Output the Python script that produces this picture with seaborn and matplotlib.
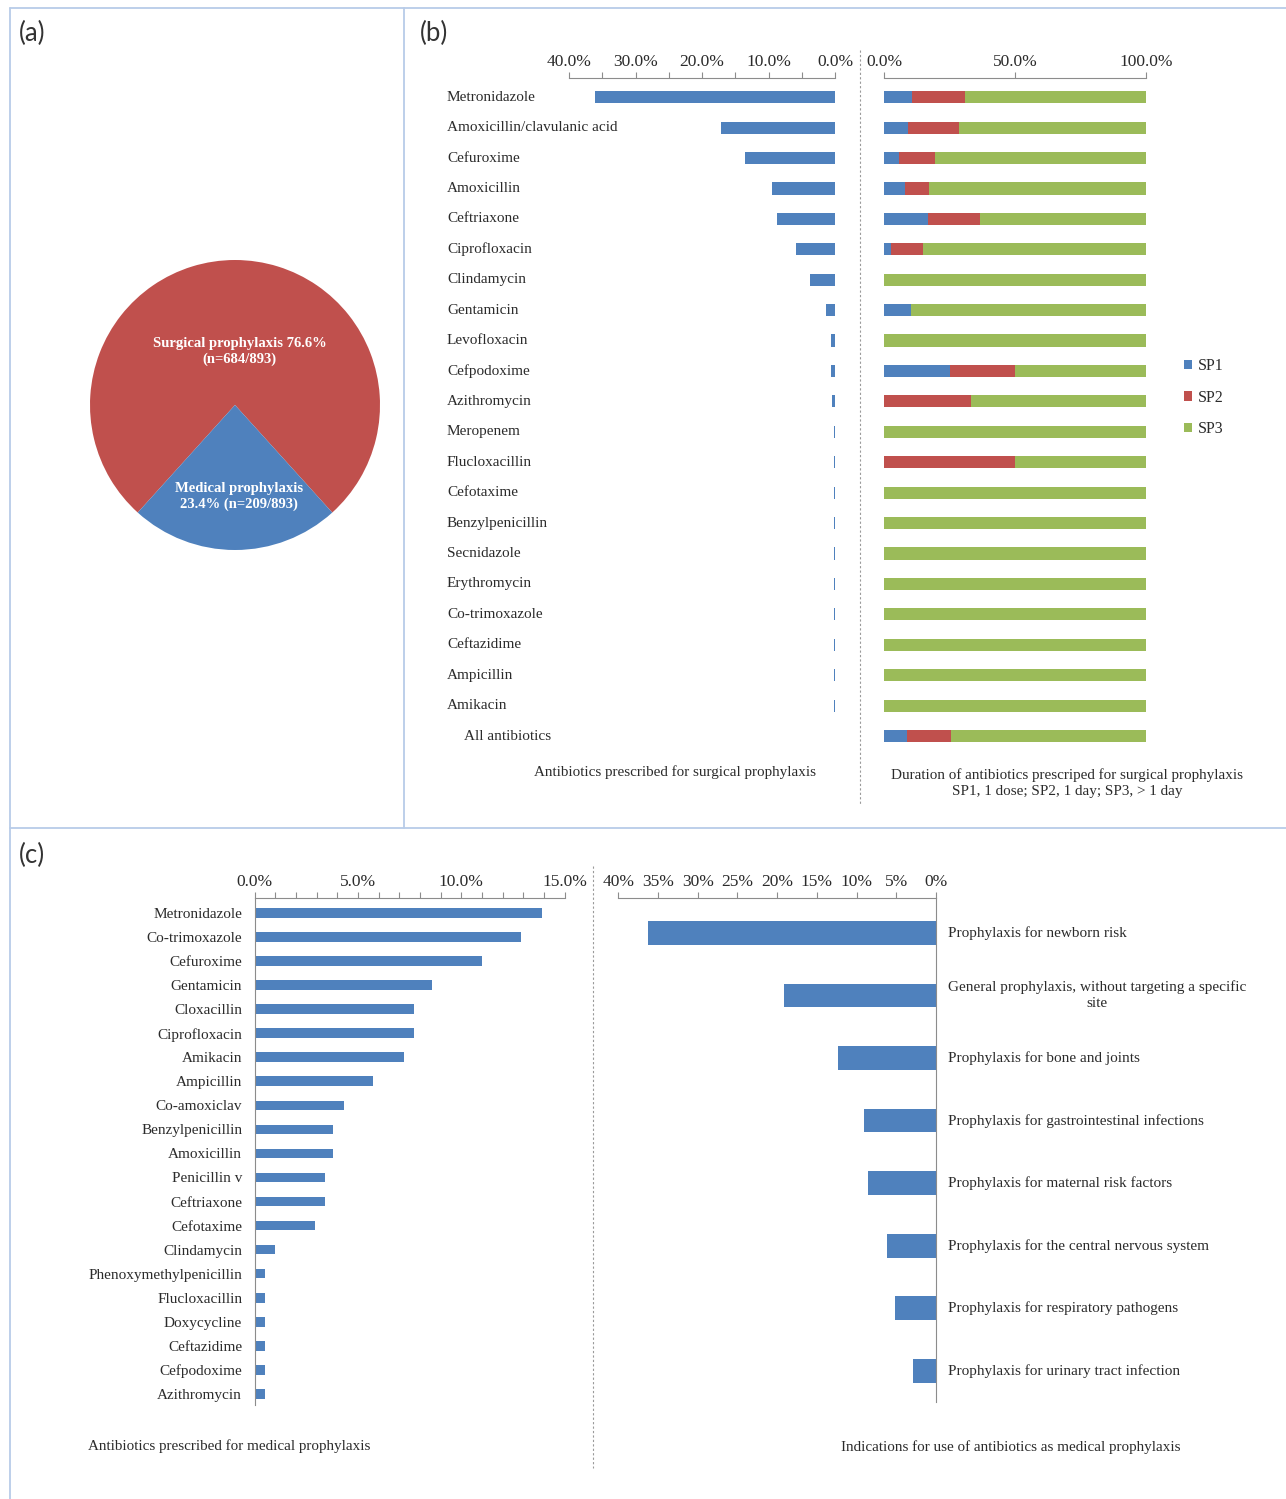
import numpy as np
import matplotlib
matplotlib.use("Agg")
import matplotlib.pyplot as plt
import seaborn as sns
from matplotlib.lines import Line2D
from matplotlib.patches import Patch
from matplotlib.ticker import MultipleLocator, FuncFormatter
from matplotlib.transforms import blended_transform_factory

# ---- data ----
# (a) share of prophylaxis prescriptions
pie_labels = ["Surgical prophylaxis 76.6%\n(n=684/893)", "Medical prophylaxis\n23.4% (n=209/893)"]
pie_values = [76.6, 23.4]

# (b) antibiotics for surgical prophylaxis
surg_drugs = ["Metronidazole", "Amoxicillin/clavulanic acid", "Cefuroxime", "Amoxicillin",
              "Ceftriaxone", "Ciprofloxacin", "Clindamycin", "Gentamicin", "Levofloxacin",
              "Cefpodoxime", "Azithromycin", "Meropenem", "Flucloxacillin", "Cefotaxime",
              "Benzylpenicillin", "Secnidazole", "Erythromycin", "Co-trimoxazole",
              "Ceftazidime", "Ampicillin", "Amikacin"]
surg_pct = [36.1, 17.1, 13.6, 9.5, 8.7, 5.8, 3.8, 1.4, 0.6, 0.6, 0.4,
            0.15, 0.15, 0.15, 0.15, 0.15, 0.15, 0.15, 0.15, 0.15, 0.15]

dur_cats = surg_drugs + ["All antibiotics"]
sp1 = [10.7, 9.0, 5.5, 7.9, 16.7, 2.5, 0, 10.2, 0, 25.0, 0,
       0, 0, 0, 0, 0, 0, 0, 0, 0, 0, 8.8]
sp2 = [20.3, 19.4, 14.0, 9.2, 20.0, 12.4, 0, 0, 0, 25.0, 33.3,
       0, 50.0, 0, 0, 0, 0, 0, 0, 0, 0, 16.7]
sp3 = [69.0, 71.6, 80.5, 82.9, 63.3, 85.1, 100, 89.8, 100, 50.0, 66.7,
       100, 50.0, 100, 100, 100, 100, 100, 100, 100, 100, 74.5]

# (c) antibiotics for medical prophylaxis
med_drugs = ["Metronidazole", "Co-trimoxazole", "Cefuroxime", "Gentamicin", "Cloxacillin",
             "Ciprofloxacin", "Amikacin", "Ampicillin", "Co-amoxiclav", "Benzylpenicillin",
             "Amoxicillin", "Penicillin v", "Ceftriaxone", "Cefotaxime", "Clindamycin",
             "Phenoxymethylpenicillin", "Flucloxacillin", "Doxycycline", "Ceftazidime",
             "Cefpodoxime", "Azithromycin"]
med_pct = [13.9, 12.9, 11.0, 8.6, 7.7, 7.7, 7.2, 5.7, 4.3, 3.8, 3.8, 3.4, 3.4, 2.9,
           1.0, 0.5, 0.5, 0.5, 0.5, 0.5, 0.5]

# (c) indications for medical prophylaxis
ind_labels = ["Prophylaxis for newborn risk",
              "General prophylaxis, without targeting a specific\nsite",
              "Prophylaxis for bone and joints",
              "Prophylaxis for gastrointestinal infections",
              "Prophylaxis for maternal risk factors",
              "Prophylaxis for the central nervous system",
              "Prophylaxis for respiratory pathogens",
              "Prophylaxis for urinary tract infection"]
ind_pct = [36.3, 19.1, 12.4, 9.1, 8.6, 6.2, 5.2, 2.9]

# ---- style ----
BLUE = "#4F81BD"
RED = "#C0504D"
GREEN = "#9BBB59"
GREY = "#8C8C8C"
TXT = "#2B2B2B"
FRAME = "#B8CCE8"

sns.set_style("white")
plt.rcParams["font.family"] = ["Liberation Serif", "DejaVu Serif"]
plt.rcParams["text.color"] = TXT

W, H = 1286, 1499
fig = plt.figure(figsize=(W / 100, H / 100), dpi=100)


def rect(l, t, r, b):
    return [l / W, 1 - b / H, (r - l) / W, (b - t) / H]


def fx(x):
    return x / W


def fy(y):
    return 1 - y / H


def top_axis(ax, xlim, major, minor, fmt):
    ax.set_xlim(*xlim)
    ax.xaxis.tick_top()
    ax.xaxis.set_major_locator(MultipleLocator(major))
    if minor:
        ax.xaxis.set_minor_locator(MultipleLocator(minor))
    ax.xaxis.set_major_formatter(FuncFormatter(fmt))
    ax.tick_params(axis="x", which="both", top=True, bottom=False, direction="out",
                   length=4, width=0.8, color=GREY, pad=1.5, labelsize=12.5, labelcolor=TXT)
    for s in ["left", "right", "bottom"]:
        ax.spines[s].set_visible(False)
    ax.spines["top"].set_color(GREY)
    ax.spines["top"].set_linewidth(0.8)
    ax.set_xlabel("")
    ax.set_ylabel("")
    ax.grid(False)


def pct1(v, pos):
    return f"{abs(v):.1f}%"


def pct0(v, pos):
    return f"{abs(v):.0f}%"


# ---- (a) pie ----
ax_a = fig.add_axes(rect(90, 260, 380, 550))
start = 270 - 360 * (pie_values[0] + pie_values[1] / 2) / 100
ax_a.pie(pie_values, colors=[RED, BLUE], startangle=start, counterclock=True,
         wedgeprops=dict(linewidth=0))
ax_a.set_xlim(-1, 1)
ax_a.set_ylim(-1, 1)
ax_a.text(0.034, 0.372, pie_labels[0], color="white", fontsize=10.5, fontweight="bold",
          ha="center", va="center", linespacing=1.25)
ax_a.text(0.028, -0.634, pie_labels[1], color="white", fontsize=10.5, fontweight="bold",
          ha="center", va="center", linespacing=1.25)

# ---- (b) left: share of surgical prophylaxis ----
ax_b1 = fig.add_axes(rect(569, 78, 835, 750))
sns.barplot(x=surg_pct, y=surg_drugs, orient="h", color=BLUE, saturation=1,
            width=0.4, linewidth=0, errorbar=None, ax=ax_b1)
top_axis(ax_b1, (40, 0), 10, 5, pct1)
ax_b1.set_ylim(21.46, -0.63)
ax_b1.set_yticks([])
tr = blended_transform_factory(fig.transFigure, ax_b1.transData)
for i, name in enumerate(dur_cats):
    x0 = 464 if name == "All antibiotics" else 447
    ax_b1.text(fx(x0), i, name, transform=tr, ha="left", va="center", fontsize=11)

# ---- (b) right: duration, stacked ----
ax_b2 = fig.add_axes(rect(884.3, 78, 1146, 750))
cum2 = np.array(sp1) + np.array(sp2)
cum3 = cum2 + np.array(sp3)
sns.barplot(x=cum3, y=dur_cats, orient="h", color=GREEN, saturation=1,
            width=0.4, linewidth=0, errorbar=None, ax=ax_b2)
sns.barplot(x=cum2, y=dur_cats, orient="h", color=RED, saturation=1,
            width=0.4, linewidth=0, errorbar=None, ax=ax_b2)
sns.barplot(x=sp1, y=dur_cats, orient="h", color=BLUE, saturation=1,
            width=0.4, linewidth=0, errorbar=None, ax=ax_b2)
top_axis(ax_b2, (0, 100), 50, None, pct1)
ax_b2.set_ylim(21.46, -0.63)
ax_b2.set_yticks([])
handles = [Patch(facecolor=c, edgecolor="none") for c in [BLUE, RED, GREEN]]
ax_b2.legend(handles, ["SP1", "SP2", "SP3"], loc="upper left",
             bbox_to_anchor=(fx(1176), fy(350)), bbox_transform=fig.transFigure,
             frameon=False, borderpad=0, handlelength=0.5, handleheight=0.5,
             handletextpad=0.35, labelspacing=0.98, fontsize=11.5)

fig.text(fx(1067), fy(783),
         "Duration of antibiotics prescriped for surgical prophylaxis\nSP1, 1 dose; SP2, 1 day; SP3, > 1 day",
         ha="center", va="center", fontsize=10.9, linespacing=1.35)
fig.text(fx(675), fy(772), "Antibiotics prescribed for surgical prophylaxis",
         ha="center", va="center", fontsize=10.9)

# ---- (c) left: antibiotics for medical prophylaxis ----
ax_c1 = fig.add_axes(rect(254.7, 898, 564.7, 1405))
sns.barplot(x=med_pct, y=med_drugs, orient="h", color=BLUE, saturation=1,
            width=0.4, linewidth=0, errorbar=None, ax=ax_c1)
top_axis(ax_c1, (0, 15), 5, 1, pct1)
ax_c1.set_ylim(20.46, -0.62)
ax_c1.spines["left"].set_visible(True)
ax_c1.spines["left"].set_color(GREY)
ax_c1.spines["left"].set_linewidth(0.8)
ax_c1.tick_params(axis="y", length=0, pad=9, labelsize=11, labelcolor=TXT)

fig.text(fx(229), fy(1446), "Antibiotics prescribed for medical prophylaxis",
         ha="center", va="center", fontsize=10.9)

# ---- (c) right: indications ----
ax_c2 = fig.add_axes(rect(618.3, 898, 936, 1402))
sns.barplot(x=ind_pct, y=ind_labels, orient="h", color=BLUE, saturation=1,
            width=0.38, linewidth=0, errorbar=None, ax=ax_c2)
top_axis(ax_c2, (40, 0), 5, None, pct0)
ax_c2.set_ylim(7.5, -0.56)
ax_c2.set_yticks([])
ax_c2.spines["right"].set_visible(True)
ax_c2.spines["right"].set_color(GREY)
ax_c2.spines["right"].set_linewidth(0.8)
tr2 = blended_transform_factory(fig.transFigure, ax_c2.transData)
for i, name in enumerate(ind_labels):
    ax_c2.text(fx(948), i, name, transform=tr2, ha="left", va="center",
               fontsize=11, multialignment="center", linespacing=1.3)

fig.text(fx(1011), fy(1447), "Indications for use of antibiotics as medical prophylaxis",
         ha="center", va="center", fontsize=10.9)

# ---- panel frame lines and separators ----
frame_lines = [((10, 1286), (8, 8)), ((10, 10), (8, 1499)),
               ((404, 404), (8, 828)), ((10, 1286), (828, 828))]
for xs, ys in frame_lines:
    fig.add_artist(Line2D([fx(v) for v in xs], [fy(v) for v in ys],
                          transform=fig.transFigure, color=FRAME, lw=1.3))
for xs, ys in [((860, 860), (50, 805)), ((593, 593), (866, 1468))]:
    fig.add_artist(Line2D([fx(v) for v in xs], [fy(v) for v in ys],
                          transform=fig.transFigure, color="#9A9A9A", lw=0.8,
                          linestyle=(0, (2, 2))))

for lab, (x, y) in [("(a)", (19, 33)), ("(b)", (420, 33)), ("(c)", (19, 855))]:
    fig.text(fx(x), fy(y), lab, ha="left", va="center", fontsize=18.5,
             family=["Lato", "DejaVu Sans"], color="#333333")

fig.savefig("out.png", dpi=100)
